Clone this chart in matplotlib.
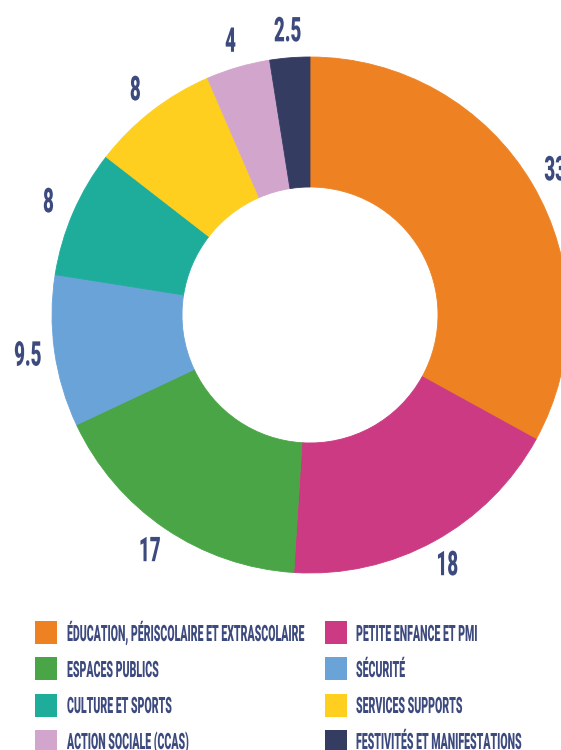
import numpy as np
import matplotlib
matplotlib.use("Agg")
import matplotlib.pyplot as plt
from matplotlib.patches import Rectangle
from matplotlib.patheffects import AbstractPathEffect
from matplotlib.transforms import Affine2D

categories = [
    "ÉDUCATION, PÉRISCOLAIRE ET EXTRASCOLAIRE",
    "PETITE ENFANCE ET PMI",
    "ESPACES PUBLICS",
    "SÉCURITÉ",
    "CULTURE ET SPORTS",
    "SERVICES SUPPORTS",
    "ACTION SOCIALE (CCAS)",
    "FESTIVITÉS ET MANIFESTATIONS",
]
values = [33, 18, 17, 9.5, 8, 8, 4, 2.5]
value_labels = ["33", "18", "17", "9.5", "8", "8", "4", "2.5"]
colors = ["#EE8223", "#CB3A82", "#49A546", "#6AA3D7",
          "#1FAD9B", "#FECF1E", "#D2A5CD", "#343C62"]
TEXT_COLOR = "#3D4A7E"
FONT = ["Roboto", "DejaVu Sans"]


class Tall(AbstractPathEffect):
    """Stretch glyphs vertically (imitates a tall condensed display typeface)."""
    def __init__(self, sy, anchor="baseline"):
        super().__init__()
        self.sy = sy
        self.anchor = anchor

    def draw_path(self, renderer, gc, tpath, affine, rgbFace=None):
        c = 0.0
        if self.anchor == "center" and len(tpath.vertices):
            v = tpath.vertices
            c = (v[:, 1].min() + v[:, 1].max()) / 2
        t = Affine2D().translate(0, -c).scale(1, self.sy).translate(0, c) + affine
        renderer.draw_path(gc, tpath, t, rgbFace)


W, H = 561, 750
fig = plt.figure(figsize=(W / 100, H / 100), dpi=100)
fig.patch.set_facecolor("white")

def fx(x):
    return x / W

def fy(y):
    return (H - y) / H

# pie axes: 1 data unit = 1 pixel, centre at (310, 315)
cx, cy, half = 310, 315, 300
ax = fig.add_axes([fx(cx - half), fy(cy + half), 2 * half / W, 2 * half / H])

R_OUT, R_IN, R_LAB = 258, 128, 285
wedges, _ = ax.pie(
    values, colors=colors, startangle=90, counterclock=False, radius=R_OUT,
    wedgeprops=dict(width=R_OUT - R_IN, linewidth=0.6, antialiased=True),
)
ax.set_xlim(-half, half)
ax.set_ylim(-half, half)
ax.set_aspect("equal")
ax.axis("off")
for w, c in zip(wedges, colors):
    w.set_edgecolor(c)

for w, lab in zip(wedges, value_labels):
    ang = np.deg2rad((w.theta1 + w.theta2) / 2)
    t = ax.text(R_LAB * np.cos(ang), R_LAB * np.sin(ang), lab,
                ha="center", va="center", fontsize=13.5, fontweight="heavy",
                color=TEXT_COLOR, family=FONT, clip_on=False)
    t.set_path_effects([Tall(1.82, "center")])

# legend (2 columns, row-major)
col_sq_x = [35, 325]
col_tx_x = [67, 356]
row_sq_top = [621, 657, 694, 730]
row_base = [641, 677, 713, 749]
SQ_W, SQ_H = 21.5, 23
for i, (lab, col) in enumerate(zip(categories, colors)):
    r, c = divmod(i, 2)
    fig.patches.append(Rectangle((fx(col_sq_x[c]), fy(row_sq_top[r] + SQ_H)),
                                 SQ_W / W, SQ_H / H, transform=fig.transFigure,
                                 facecolor=col, edgecolor="none"))
    t = fig.text(fx(col_tx_x[c]), fy(row_base[r]), lab, ha="left", va="baseline",
                 fontsize=7.6, fontweight="heavy", color=TEXT_COLOR, family=FONT)
    t.set_path_effects([Tall(2.13, "baseline")])

fig.savefig("out.png", dpi=100, facecolor="white")
